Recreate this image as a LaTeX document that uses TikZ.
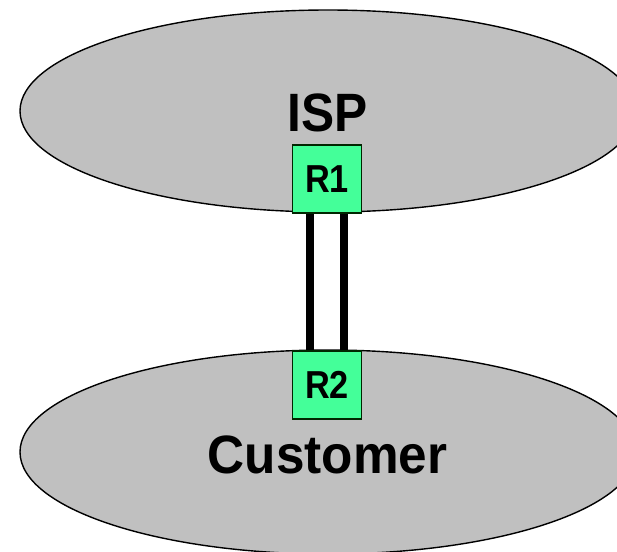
\documentclass[tikz,border=0pt]{standalone}
\usepackage{fontspec}
\setmainfont{Liberation Sans}
\usetikzlibrary{shapes.geometric}
\definecolor{cloudgray}{HTML}{C0C0C0}
\definecolor{routergreen}{HTML}{44FF99}
\pgfdeclarelayer{clouds}
\pgfdeclarelayer{links}
\pgfsetlayers{clouds,links,main}
\begin{document}
\begin{tikzpicture}[x=1pt,y=-1pt,
  netdomain/.style={ellipse, draw=black, line width=1.4pt, fill=cloudgray, inner sep=0pt},
  router/.style={rectangle, draw=black!85!green, line width=1.3pt, fill=routergreen,
    minimum width=69pt, minimum height=68pt, inner sep=0pt,
    font=\fontsize{39}{39}\selectfont\bfseries},
  bigtext/.style={font=\fontsize{54}{54}\selectfont\bfseries, inner sep=0pt},
  link/.style={line width=8pt, black}]
  \useasboundingbox (0,0) rectangle (617,551);
  \clip (0,0) rectangle (617,551);

  % the two routing domains
  \begin{pgfonlayer}{clouds}
    \node[netdomain, minimum width=616pt, minimum height=202pt] (isp) at (328,111) {};
    \node[netdomain, minimum width=616pt, minimum height=204pt] (cust) at (328,452) {};
  \end{pgfonlayer}

  % domain labels
  \node[bigtext] (ispl) at (327.5,112.5) {\scalebox{0.92}[1]{ISP}};
  \node[bigtext] (custl) at (327.5,455) {\scalebox{0.95}[1]{Customer}};

  % border routers
  \node[router] (r1) at (327,179) {\scalebox{0.88}[1]{R1}};
  \node[router] (r2) at (327,385) {\scalebox{0.88}[1]{R2}};

  % the two parallel links, kept under the routers
  \begin{pgfonlayer}{links}
    \draw[link] ([xshift=-17pt]r1.south) -- ([xshift=-17pt]r2.north);
    \draw[link] ([xshift=17pt]r1.south) -- ([xshift=17pt]r2.north);
  \end{pgfonlayer}
\end{tikzpicture}
\end{document}
